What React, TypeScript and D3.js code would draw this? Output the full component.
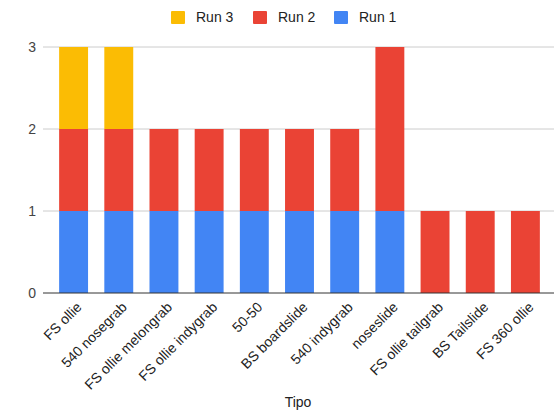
import React from "react";
import * as d3 from "d3";

const categories = ["FS ollie", "540 nosegrab", "FS ollie melongrab", "FS ollie indygrab", "50-50", "BS boardslide", "540 indygrab", "noseslide", "FS ollie tailgrab", "BS Tailslide", "FS 360 ollie"];
const run1 = [1, 1, 1, 1, 1, 1, 1, 1, 0, 0, 0];
const run2 = [1, 1, 1, 1, 1, 1, 1, 2, 1, 1, 1];
const run3 = [1, 1, 0, 0, 0, 0, 0, 0, 0, 0, 0];
const seriesNames = ["Run 1", "Run 2", "Run 3"];
const colors = ["#4285f4", "#ea4335", "#fbbc04"];
const yTicks = [0, 1, 2, 3];

export default function App() {
  const W = 554, H = 411;
  const x = d3.scaleBand().domain(categories).range([51, 548]).paddingInner(0.36).paddingOuter(0.18);
  const y = d3.scaleLinear().domain([0, 3]).range([293, 47]);
  const rows = categories.map((c, i) => ({ cat: c, "Run 1": run1[i], "Run 2": run2[i], "Run 3": run3[i] }));
  const stacked = d3.stack<any>().keys(seriesNames)(rows);
  const font = "Arial, 'Liberation Sans', sans-serif";
  const legend = [
    { name: "Run 3", color: colors[2], x: 171 },
    { name: "Run 2", color: colors[1], x: 253 },
    { name: "Run 1", color: colors[0], x: 334 },
  ];
  return (
    <svg width={W} height={H} style={{ position: "absolute", left: 0, top: 0, background: "#fff" }} fontFamily={font}>
      {yTicks.map((t) => (
        <g key={t}>
          {t !== 0 && <line x1={43} x2={554} y1={y(t)} y2={y(t)} stroke="#cccccc" strokeWidth={1} />}
          <text x={36} y={y(t)} dy="0.35em" textAnchor="end" fontSize={14} fill="#444">{t}</text>
        </g>
      ))}
      {stacked.map((s, si) => (
        <g key={s.key} fill={colors[si]}>
          {s.map((d, i) => {
            const h = y(d[0]) - y(d[1]);
            if (h <= 0) return null;
            return <rect key={i} x={x(categories[i])} y={y(d[1])} width={x.bandwidth()} height={h} />;
          })}
        </g>
      ))}
      <line x1={43} x2={554} y1={y(0)} y2={y(0)} stroke="#333" strokeWidth={1} />
      {categories.map((c) => {
        const cx = (x(c) as number) + x.bandwidth() / 2;
        return (
          <text key={c} transform={`translate(${cx + 9},${y(0) + 15}) rotate(-45)`} textAnchor="end" fontSize={14} fill="#222">{c}</text>
        );
      })}
      <text x={298} y={407} textAnchor="middle" fontSize={14} fill="#222">Tipo</text>
      {legend.map((l) => (
        <g key={l.name}>
          <rect x={l.x} y={11} width={14} height={13} fill={l.color} rx={1} />
          <text x={l.x + 25} y={17.5} dy="0.35em" fontSize={14} fill="#222">{l.name}</text>
        </g>
      ))}
    </svg>
  );
}
